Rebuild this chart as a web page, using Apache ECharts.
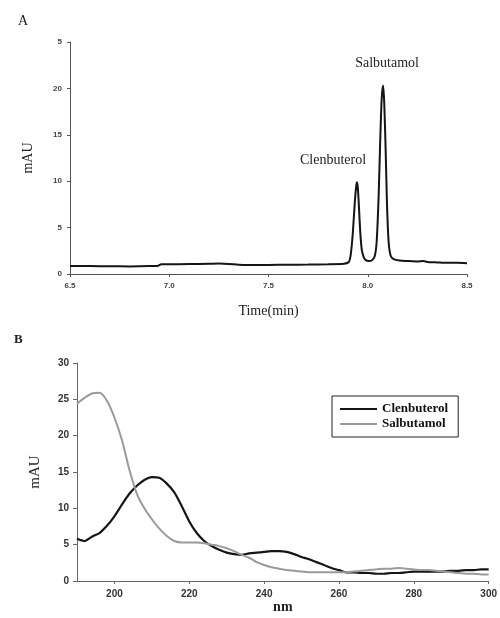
<!DOCTYPE html>
<html><head><meta charset="utf-8">
<script src="https://cdn.jsdelivr.net/npm/echarts@6/dist/echarts.min.js"></script>
<style>html,body{margin:0;padding:0;background:#fff}#c{width:500px;height:618px}</style>
</head><body><div id="c"></div>
<script>
// Panel A: chromatogram
const aTime = [6.5,6.6,6.7,6.8,6.9,6.94,6.96,7.0,7.1,7.2,7.25,7.3,7.35,7.4,7.5,7.6,7.7,7.8,7.88,7.905,7.915,7.925,7.935,7.942,7.946,7.95,7.955,7.962,7.97,7.98,7.99,8.005,8.02,8.035,8.045,8.055,8.063,8.07,8.077,8.083,8.09,8.097,8.105,8.115,8.13,8.16,8.2,8.25,8.28,8.3,8.35,8.4,8.45,8.5];
const aValue = [0.85,0.85,0.83,0.82,0.85,0.85,1.05,1.05,1.08,1.1,1.12,1.08,1.0,0.98,0.98,1.0,1.02,1.05,1.1,1.3,2.2,4.5,7.8,9.5,9.9,9.3,7.5,4.6,2.6,1.8,1.5,1.4,1.45,1.9,3.5,8.5,14.5,18.8,20.3,18.5,13.5,7.5,3.5,2.0,1.6,1.45,1.4,1.35,1.4,1.3,1.25,1.2,1.2,1.15];
const aXTicks = ['6.5','7.0','7.5','8.0','8.5'];
const aYTicks = ['0','5','10','15','20','5'];
const aPeaks = [{name:'Clenbuterol', t:7.946, v:9.9}, {name:'Salbutamol', t:8.077, v:20.3}];

// Panel B: UV spectra
const bNm = [190,192,194,196,198,200,202,204,206,208,210,212,214,216,218,220,222,224,226,228,230,232,234,236,238,240,242,244,246,248,250,252,254,256,258,260,262,264,266,268,270,272,274,276,278,280,282,284,286,288,290,292,294,296,298,300];
const bClenbuterol = [5.8,5.5,6.1,6.6,7.6,8.9,10.5,12.0,13.1,13.9,14.3,14.2,13.4,12.2,10.3,8.2,6.6,5.5,4.8,4.3,3.9,3.7,3.6,3.8,3.9,4.0,4.1,4.1,4.0,3.7,3.3,3.0,2.6,2.2,1.8,1.5,1.2,1.2,1.1,1.1,1.0,1.0,1.1,1.1,1.2,1.3,1.3,1.3,1.3,1.3,1.4,1.4,1.5,1.5,1.6,1.6];
const bSalbutamol = [24.4,25.2,25.8,25.9,24.8,22.5,19.4,15.3,12.0,10.0,8.5,7.2,6.2,5.5,5.3,5.3,5.3,5.2,5.0,4.8,4.5,4.1,3.6,3.2,2.6,2.2,1.9,1.7,1.5,1.4,1.3,1.2,1.2,1.2,1.2,1.2,1.2,1.3,1.4,1.5,1.6,1.7,1.7,1.8,1.7,1.6,1.5,1.5,1.4,1.3,1.2,1.1,1.0,1.0,0.9,0.9];
const bXTicks = [200,220,240,260,280,300];

const serif = '"Liberation Serif","Times New Roman",serif';
const sans = '"Liberation Sans",Arial,sans-serif';

const chart = echarts.init(document.getElementById('c'), null, {renderer:'canvas'});
chart.setOption({
  backgroundColor:'#fff',
  animation:false,
  graphic:[
    {type:'text', left:18, top:14, style:{text:'A', font:'14px '+serif, fill:'#222'}},
    {type:'text', left:14, top:333, style:{text:'B', font:'bold 13px '+serif, fill:'#222'}}
  ],
  legend:{
    data:[{name:'Clenbuterol', icon:'rect'},{name:'Salbutamol', icon:'rect'}],
    left:332, top:396, orient:'vertical',
    borderColor:'#222', borderWidth:1, padding:[6,10,6,8],
    itemWidth:37, itemHeight:2, itemGap:1,
    textStyle:{fontFamily:serif, fontWeight:'bold', fontSize:13, color:'#111', lineHeight:14},
    itemStyle:{borderWidth:0}
  },
  grid:[
    {left:70, right:33, top:42, bottom:344},
    {left:77, right:8, top:363, bottom:37}
  ],
  xAxis:[
    {type:'value', gridIndex:0, min:6.5, max:8.5, interval:0.5,
     name:'Time(min)', nameLocation:'middle', nameGap:30,
     nameTextStyle:{fontFamily:serif, fontSize:14, color:'#222'},
     axisLine:{lineStyle:{color:'#555', width:1}},
     axisTick:{show:true, length:3, lineStyle:{color:'#555'}},
     axisLabel:{fontFamily:sans, fontWeight:'bold', fontSize:8, color:'#444', margin:8,
       formatter:(v)=>aXTicks[Math.round((v-6.5)/0.5)]},
     splitLine:{show:false}},
    {type:'value', gridIndex:1, min:190, max:300,
     name:'nm', nameLocation:'middle', nameGap:18,
     nameTextStyle:{fontFamily:serif, fontWeight:'bold', fontSize:14, color:'#222'},
     axisLine:{lineStyle:{color:'#666', width:1}},
     axisTick:{show:true, length:3, customValues:bXTicks, lineStyle:{color:'#666'}},
     axisLabel:{customValues:bXTicks, fontFamily:sans, fontWeight:'bold', fontSize:10, color:'#333', margin:8},
     splitLine:{show:false}}
  ],
  yAxis:[
    {type:'value', gridIndex:0, min:0, max:25, interval:5,
     name:'mAU', nameLocation:'middle', nameGap:35,
     nameTextStyle:{fontFamily:serif, fontSize:14, color:'#222'},
     axisLine:{show:true, lineStyle:{color:'#555', width:1}},
     axisTick:{show:true, length:3, lineStyle:{color:'#555'}},
     axisLabel:{fontFamily:sans, fontWeight:'bold', fontSize:8, color:'#444', margin:8,
       formatter:(v)=>aYTicks[Math.round(v/5)]},
     splitLine:{show:false}},
    {type:'value', gridIndex:1, min:0, max:30, interval:5,
     name:'mAU', nameLocation:'middle', nameGap:34,
     nameTextStyle:{fontFamily:serif, fontSize:15, color:'#222'},
     axisLine:{show:true, lineStyle:{color:'#666', width:1}},
     axisTick:{show:true, length:4, lineStyle:{color:'#666'}},
     axisLabel:{fontFamily:sans, fontWeight:'bold', fontSize:10, color:'#333', margin:8},
     splitLine:{show:false}}
  ],
  series:[
    {type:'line', xAxisIndex:0, yAxisIndex:0, symbol:'none', smooth:0.2,
     data:aTime.map((t,i)=>[t,aValue[i]]),
     lineStyle:{color:'#151515', width:2},
     markPoint:{symbol:'circle', symbolSize:0,
       data:aPeaks.map((p,i)=>({coord:[p.t,p.v], value:p.name,
         label:{show:true, formatter:p.name, position:'top',
           offset: i===0?[-24,-10]:[4,-10],
           fontFamily:serif, fontSize:14, color:'#222'}}))}},
    {type:'line', name:'Clenbuterol', xAxisIndex:1, yAxisIndex:1, symbol:'none', smooth:0.3,
     data:bNm.map((n,i)=>[n,bClenbuterol[i]]),
     lineStyle:{color:'#151515', width:2.2}, itemStyle:{color:'#151515'}},
    {type:'line', name:'Salbutamol', xAxisIndex:1, yAxisIndex:1, symbol:'none', smooth:0.3,
     data:bNm.map((n,i)=>[n,bSalbutamol[i]]),
     lineStyle:{color:'#9a9a9a', width:2}, itemStyle:{color:'#9a9a9a'}}
  ]
});
</script></body></html>
